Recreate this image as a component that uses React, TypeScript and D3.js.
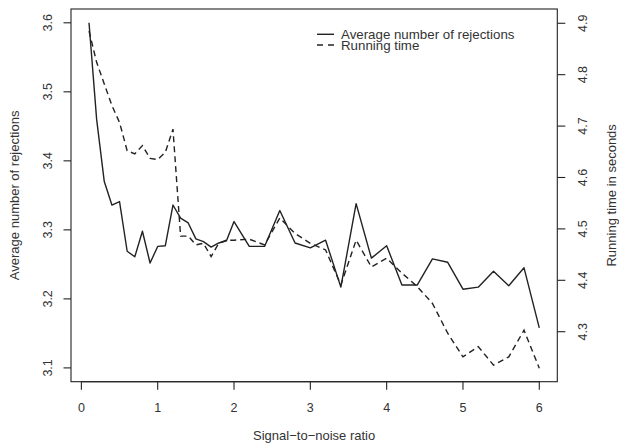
import React from "react";
import { scaleLinear, line } from "d3";

// signal-to-noise ratio (x)
const snr = [
  0.1, 0.2, 0.3, 0.4, 0.5, 0.6, 0.7, 0.8, 0.9, 1.0,
  1.1, 1.2, 1.3, 1.4, 1.5, 1.6, 1.7, 1.8, 1.9, 2.0,
  2.2, 2.4, 2.6, 2.8, 3.0, 3.2, 3.4, 3.6, 3.8, 4.0,
  4.2, 4.4, 4.6, 4.8, 5.0, 5.2, 5.4, 5.6, 5.8, 6.0,
];
// average number of rejections (left axis, solid)
const rejections = [
  3.6, 3.46, 3.37, 3.336, 3.341, 3.269, 3.261, 3.298, 3.252, 3.276,
  3.277, 3.336, 3.317, 3.31, 3.287, 3.283, 3.275, 3.281, 3.284, 3.312,
  3.276, 3.276, 3.328, 3.281, 3.274, 3.285, 3.217, 3.338, 3.259, 3.277,
  3.22, 3.22, 3.258, 3.253, 3.214, 3.217, 3.24, 3.219, 3.245, 3.158,
];
// running time in seconds (right axis, dashed)
const runningTime = [
  4.885, 4.824, 4.782, 4.74, 4.707, 4.652, 4.646, 4.662, 4.637, 4.635,
  4.649, 4.694, 4.486, 4.486, 4.469, 4.472, 4.446, 4.472, 4.478, 4.478,
  4.48, 4.469, 4.521, 4.491, 4.472, 4.459, 4.391, 4.478, 4.426, 4.443,
  4.414, 4.388, 4.355, 4.297, 4.251, 4.271, 4.235, 4.251, 4.303, 4.229,
];

const xTicks = [0, 1, 2, 3, 4, 5, 6];
const leftTicks = [3.1, 3.2, 3.3, 3.4, 3.5, 3.6];
const rightTicks = [4.3, 4.4, 4.5, 4.6, 4.7, 4.8, 4.9];
const leftLimits = [3.1, 3.6];
const rightLimits = [4.2296, 4.9009];
const legendLabels = ["Average number of rejections", "Running time"];

const W = 619;
const H = 446;
const box = { left: 71, right: 557.3, top: 9, bottom: 381.7 };

// R style 4% axis padding
const pad = (lim: number[]) => {
  const d = (lim[1] - lim[0]) * 0.04;
  return [lim[0] - d, lim[1] + d];
};

const ink = "#222";
const font = "'Liberation Sans', Arial, Helvetica, sans-serif";

export default function App() {
  const x = scaleLinear().domain(pad([0.1, 6])).range([box.left, box.right]);
  const yL = scaleLinear().domain(pad(leftLimits)).range([box.bottom, box.top]);
  const yR = scaleLinear().domain(pad(rightLimits)).range([box.bottom, box.top]);

  const solid = line<number>()
    .x((_, i) => x(snr[i]))
    .y((d) => yL(d));
  const dashed = line<number>()
    .x((_, i) => x(snr[i]))
    .y((d) => yR(d));

  const fmt = (v: number) => String(v);

  return (
    <svg
      width={W}
      height={H}
      style={{ position: "absolute", left: 0, top: 0, background: "#fff" }}
      fontFamily={font}
    >
      <rect x={0} y={0} width={W} height={H} fill="#fff" />
      {/* series */}
      <path d={solid(rejections) || ""} fill="none" stroke={ink} strokeWidth={1.4} strokeLinejoin="round" />
      <path d={dashed(runningTime) || ""} fill="none" stroke={ink} strokeWidth={1.4} strokeDasharray="6,4" />

      {/* box */}
      <rect
        x={box.left}
        y={box.top}
        width={box.right - box.left}
        height={box.bottom - box.top}
        fill="none"
        stroke={ink}
        strokeWidth={1.1}
      />

      {/* bottom axis */}
      <line x1={x(0)} x2={x(6)} y1={box.bottom} y2={box.bottom} stroke={ink} strokeWidth={1.1} />
      {xTicks.map((t) => (
        <g key={"x" + t}>
          <line x1={x(t)} x2={x(t)} y1={box.bottom} y2={box.bottom + 8} stroke={ink} strokeWidth={1.1} />
          <text x={x(t)} y={411.5} textAnchor="middle" fontSize={12.5} fill="#333">
            {t}
          </text>
        </g>
      ))}
      <text x={(box.left + box.right) / 2} y={440} textAnchor="middle" fontSize={13} fill="#333">
        Signal−to−noise ratio
      </text>

      {/* left axis */}
      {leftTicks.map((t) => (
        <g key={"l" + t}>
          <line x1={box.left - 7.5} x2={box.left} y1={yL(t)} y2={yL(t)} stroke={ink} strokeWidth={1.1} />
          <text
            transform={`translate(51.5,${yL(t)}) rotate(-90)`}
            textAnchor="middle"
            fontSize={12.5}
            fill="#333"
          >
            {fmt(t)}
          </text>
        </g>
      ))}
      <text
        transform={`translate(19,${(box.top + box.bottom) / 2}) rotate(-90)`}
        textAnchor="middle"
        fontSize={13}
        fill="#333"
      >
        Average number of rejections
      </text>

      {/* right axis */}
      {rightTicks.map((t) => (
        <g key={"r" + t}>
          <line x1={box.right} x2={box.right + 8} y1={yR(t)} y2={yR(t)} stroke={ink} strokeWidth={1.1} />
          <text
            transform={`translate(586.5,${yR(t)}) rotate(-90)`}
            textAnchor="middle"
            fontSize={12.5}
            fill="#333"
          >
            {fmt(t)}
          </text>
        </g>
      ))}
      <text
        transform={`translate(616,${(box.top + box.bottom) / 2}) rotate(-90)`}
        textAnchor="middle"
        fontSize={13}
        fill="#333"
      >
        Running time in seconds
      </text>

      {/* legend */}
      <line x1={317} x2={334} y1={34.3} y2={34.3} stroke={ink} strokeWidth={1.4} />
      <line x1={317} x2={334} y1={45} y2={45} stroke={ink} strokeWidth={1.4} strokeDasharray="6,5" />
      <text x={341} y={38.5} fontSize={13.3} fill="#333">
        {legendLabels[0]}
      </text>
      <text x={341} y={49.5} fontSize={13.3} fill="#333">
        {legendLabels[1]}
      </text>
    </svg>
  );
}
